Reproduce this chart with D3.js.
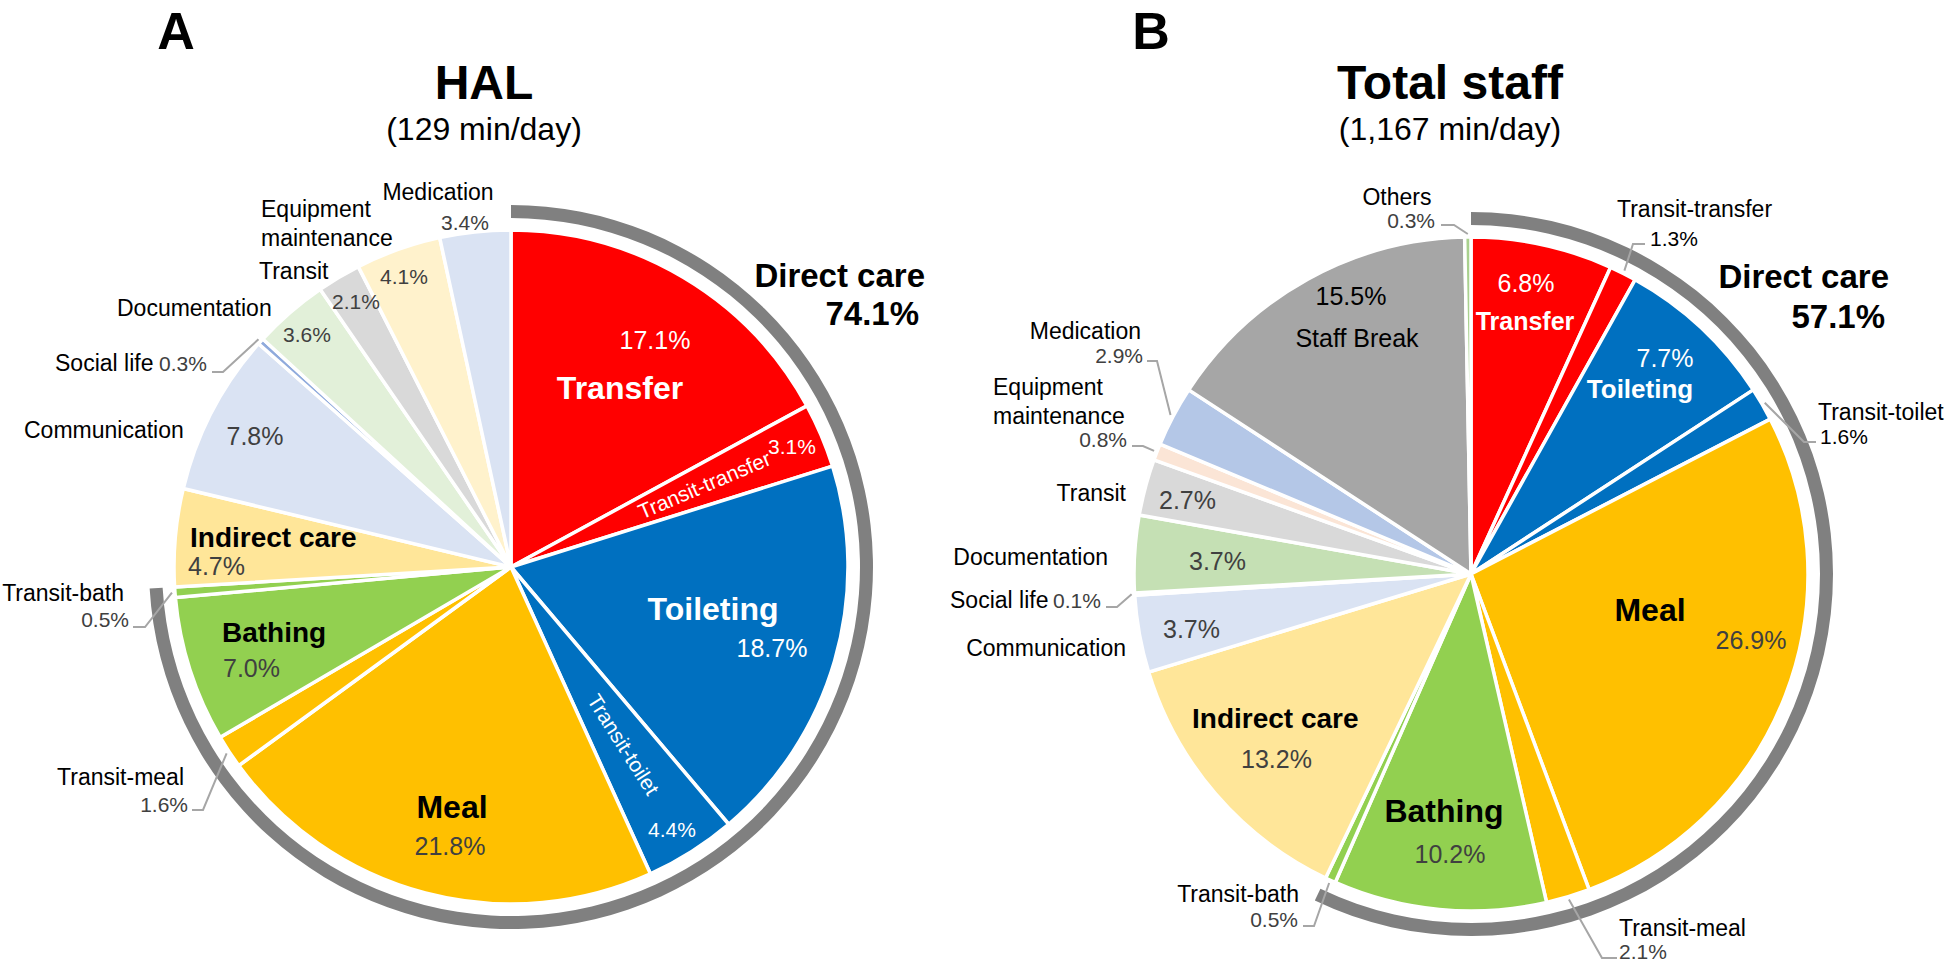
<!DOCTYPE html>
<html lang="en">
<head>
<meta charset="UTF-8">
<title>Care time breakdown</title>
<script src="https://d3js.org/d3.v7.min.js"></script>
<style>
    body { margin: 0; background: #fff; }
    svg { display: block; font-family: "Liberation Sans", Arial, sans-serif; }
    .o23 { font-size: 23px; fill: #000; }
    .k21 { font-size: 21px; fill: #000; }
    .k25 { font-size: 25px; fill: #000; }
    .g21 { font-size: 21px; fill: #404040; }
    .g25 { font-size: 25px; fill: #404040; }
    .w21 { font-size: 21px; fill: #fff; }
    .w25 { font-size: 25px; fill: #fff; }
    .b28 { font-size: 28px; font-weight: bold; fill: #000; }
    .b32 { font-size: 32px; font-weight: bold; fill: #000; }
    .bw25 { font-size: 25px; font-weight: bold; fill: #fff; }
    .bw26 { font-size: 26px; font-weight: bold; fill: #fff; }
    .bw32 { font-size: 32px; font-weight: bold; fill: #fff; }
    .grp { font-size: 33px; font-weight: bold; fill: #000; }
</style>
</head>
<body>
<svg id="chart" width="1946" height="962"></svg>
<script>
    // ---- data ----
    const panelLetters = ["A", "B"];
    const chartTitles = ["HAL", "Total staff"];
    const chartSubtitles = ["(129 min/day)", "(1,167 min/day)"];
    const groupName = "Direct care";
    const directCareTotals = [74.1, 57.1];

    const halCategories = ["Transfer", "Transit-transfer", "Toileting", "Transit-toilet", "Meal", "Transit-meal",
        "Bathing", "Transit-bath", "Indirect care", "Communication", "Social life", "Documentation",
        "Transit", "Equipment maintenance", "Medication"];
    const halValues = [17.1, 3.1, 18.7, 4.4, 21.8, 1.6, 7.0, 0.5, 4.7, 7.8, 0.3, 3.6, 2.1, 4.1, 3.4];

    const staffCategories = ["Transfer", "Transit-transfer", "Toileting", "Transit-toilet", "Meal", "Transit-meal",
        "Bathing", "Transit-bath", "Indirect care", "Communication", "Social life", "Documentation",
        "Transit", "Equipment maintenance", "Medication", "Staff Break", "Others"];
    const staffValues = [6.8, 1.3, 7.7, 1.6, 26.9, 2.1, 10.2, 0.5, 13.2, 3.7, 0.1, 3.7, 2.7, 0.8, 2.9, 15.5, 0.3];

    // slices in the direct care ring (counted from the top)
    const directCount = 8;

    // ---- colours ----
    const halColors = ["#ff0000", "#ff0000", "#0070c0", "#0070c0", "#ffc000", "#ffc000", "#92d050", "#92d050",
        "#ffe699", "#dae3f3", "#8faadc", "#e2f0d9", "#d9d9d9", "#fff2cc", "#dae3f3"];
    const staffColors = ["#ff0000", "#ff0000", "#0070c0", "#0070c0", "#ffc000", "#ffc000", "#92d050", "#92d050",
        "#ffe699", "#dae3f3", "#8faadc", "#c5e0b4", "#d9d9d9", "#fbe5d6", "#b4c7e7", "#a6a6a6", "#a9d18e"];

    // ---- layout ----
    const R = 337, ringIn = 349, ringOut = 362;
    const panels = [
        { cx: 511, cy: 567, letterX: 176, titleX: 484 },
        { cx: 1471, cy: 574, letterX: 1151, titleX: 1450 }
    ];

    // [category, part, dx, dy, anchor, class] offsets from the pie centre
    const halLabels = [
        ["Transfer", "name", 109, -168, "middle", "bw32"],
        ["Transfer", "value", 144, -218, "middle", "w25"],
        ["Transit-transfer", "value", 281, -113, "middle", "w21"],
        ["Toileting", "name", 202, 53, "middle", "bw32"],
        ["Toileting", "value", 261, 90, "middle", "w25"],
        ["Transit-toilet", "value", 161, 270, "middle", "w21"],
        ["Meal", "name", -59, 251, "middle", "b32"],
        ["Meal", "value", -61, 288, "middle", "g25"],
        ["Transit-meal", "name", -327, 218, "end", "o23"],
        ["Transit-meal", "value", -323, 245, "end", "g21"],
        ["Bathing", "name", -289, 75, "start", "b28"],
        ["Bathing", "value", -288, 110, "start", "g25"],
        ["Transit-bath", "name", -387, 34, "end", "o23"],
        ["Transit-bath", "value", -382, 60, "end", "g21"],
        ["Indirect care", "name", -321, -20, "start", "b28"],
        ["Indirect care", "value", -323, 8, "start", "g25"],
        ["Communication", "name", -487, -129, "start", "o23"],
        ["Communication", "value", -256, -122, "middle", "g25"],
        ["Social life", "name", -456, -196, "start", "o23"],
        ["Social life", "value", -352, -196, "start", "g21"],
        ["Documentation", "name", -394, -251, "start", "o23"],
        ["Documentation", "value", -204, -225, "middle", "g21"],
        ["Transit", "name", -252, -288, "start", "o23"],
        ["Transit", "value", -155, -258, "middle", "g21"],
        ["Equipment maintenance", "name", -250, -350, "start", "o23"],
        ["Equipment maintenance", "value", -107, -283, "middle", "g21"],
        ["Medication", "name", -73, -367, "middle", "o23"],
        ["Medication", "value", -46, -337, "middle", "g21"]
    ];
    const staffLabels = [
        ["Transfer", "name", 54, -244, "middle", "bw25"],
        ["Transfer", "value", 55, -282, "middle", "w25"],
        ["Transit-transfer", "name", 146, -357, "start", "o23"],
        ["Transit-transfer", "value", 179, -328, "start", "k21"],
        ["Toileting", "name", 169, -176, "middle", "bw26"],
        ["Toileting", "value", 194, -207, "middle", "w25"],
        ["Transit-toilet", "name", 347, -154, "start", "o23"],
        ["Transit-toilet", "value", 349, -130, "start", "k21"],
        ["Meal", "name", 179, 47, "middle", "b32"],
        ["Meal", "value", 280, 75, "middle", "g25"],
        ["Transit-meal", "name", 148, 362, "start", "o23"],
        ["Transit-meal", "value", 148, 385, "start", "g21"],
        ["Bathing", "name", -27, 248, "middle", "b32"],
        ["Bathing", "value", -21, 289, "middle", "g25"],
        ["Transit-bath", "name", -172, 328, "end", "o23"],
        ["Transit-bath", "value", -173, 353, "end", "g21"],
        ["Indirect care", "name", -279, 154, "start", "b28"],
        ["Indirect care", "value", -230, 194, "start", "g25"],
        ["Communication", "name", -345, 82, "end", "o23"],
        ["Communication", "value", -308, 64, "start", "g25"],
        ["Social life", "name", -521, 34, "start", "o23"],
        ["Social life", "value", -418, 34, "start", "g21"],
        ["Documentation", "name", -363, -9, "end", "o23"],
        ["Documentation", "value", -282, -4, "start", "g25"],
        ["Transit", "name", -345, -73, "end", "o23"],
        ["Transit", "value", -312, -65, "start", "g25"],
        ["Equipment maintenance", "name", -478, -179, "start", "o23"],
        ["Equipment maintenance", "value", -344, -127, "end", "g21"],
        ["Medication", "name", -330, -235, "end", "o23"],
        ["Medication", "value", -328, -211, "end", "g21"],
        ["Staff Break", "name", -114, -227, "middle", "k25"],
        ["Staff Break", "value", -120, -269, "middle", "k25"],
        ["Others", "name", -74, -369, "middle", "o23"],
        ["Others", "value", -36, -346, "end", "g21"]
    ];

    // leader lines: label side points, the last point is the slice edge
    const halLeaders = [
        ["Social life", [[-299, -195], [-288, -195]]],
        ["Transit-bath", [[-378, 60], [-366, 60]]],
        ["Transit-meal", [[-319, 243], [-308, 243]]]
    ];
    const staffLeaders = [
        ["Others", [[-30, -349], [-17, -349]]],
        ["Medication", [[-324, -213], [-314, -213]]],
        ["Equipment maintenance", [[-339, -128], [-328, -128]]],
        ["Social life", [[-365, 33], [-354, 33]]],
        ["Transit-bath", [[-168, 352], [-157, 352]]],
        ["Transit-meal", [[146, 384], [131, 384]]],
        ["Transit-toilet", [[345, -132], [333, -132]]],
        ["Transit-transfer", [[174, -330], [162, -330]]]
    ];

    // labels written along the slice radius
    const halRadial = [["Transit-transfer", 210], ["Transit-toilet", 210]];
    const staffRadial = [];

    const groupLabelPos = [[414, -280, 408, -242], [418, -286, 414, -246]];

    const charts = [
        { cats: halCategories, vals: halValues, colors: halColors, labels: halLabels, leaders: halLeaders, radial: halRadial },
        { cats: staffCategories, vals: staffValues, colors: staffColors, labels: staffLabels, leaders: staffLeaders, radial: staffRadial }
    ];

    const svg = d3.select("#chart");
    const fmt = v => v.toFixed(1) + "%";
    const pie = d3.pie().sort(null).value(d => d).startAngle(0).endAngle(2 * Math.PI);
    const arc = d3.arc().innerRadius(0).outerRadius(R);
    const ringArc = d3.arc().innerRadius(ringIn).outerRadius(ringOut);
    const edgeArc = d3.arc().innerRadius(R + 3).outerRadius(R + 3);

    charts.forEach((c, i) => {
        const p = panels[i];
        const arcs = pie(c.vals);
        const byName = {};
        arcs.forEach((a, k) => byName[c.cats[k]] = a);

        // panel letter and titles
        svg.append("text").attr("x", p.letterX).attr("y", 49).attr("text-anchor", "middle")
            .style("font-size", "52px").style("font-weight", "bold").text(panelLetters[i]);
        svg.append("text").attr("x", p.titleX).attr("y", 99).attr("text-anchor", "middle")
            .style("font-size", "48px").style("font-weight", "bold").text(chartTitles[i]);
        svg.append("text").attr("x", p.titleX).attr("y", 140).attr("text-anchor", "middle")
            .style("font-size", "32px").text(chartSubtitles[i]);

        const g = svg.append("g").attr("transform", `translate(${p.cx},${p.cy})`);

        g.selectAll("path.slice")
            .data(arcs)
            .join("path")
            .attr("class", "slice")
            .attr("d", arc)
            .attr("fill", (d, k) => c.colors[k])
            .attr("stroke", "#fff")
            .attr("stroke-width", 3.5)
            .attr("stroke-linejoin", "round");

        // direct care ring
        g.append("path")
            .attr("d", ringArc({ startAngle: 0, endAngle: arcs[directCount - 1].endAngle }))
            .attr("fill", "#808080");

        // leader lines
        c.leaders.forEach(([name, pts]) => {
            const end = edgeArc.centroid(byName[name]);
            g.append("path")
                .attr("d", d3.line()(pts.concat([end])))
                .attr("fill", "none")
                .attr("stroke", "#a6a6a6")
                .attr("stroke-width", 2);
        });

        // slice labels
        c.labels.forEach(([name, part, dx, dy, anchor, cls]) => {
            const k = c.cats.indexOf(name);
            const t = g.append("text")
                .attr("x", dx).attr("y", dy)
                .attr("text-anchor", anchor)
                .attr("class", cls);
            if (part === "value") {
                t.text(fmt(c.vals[k]));
            } else if (name === "Equipment maintenance") {
                name.split(" ").forEach((w, j) => {
                    t.append("tspan").attr("x", dx).attr("dy", j === 0 ? 0 : 29).text(w);
                });
            } else {
                t.text(name);
            }
        });

        // radial labels inside thin slices
        c.radial.forEach(([name, r]) => {
            const a = byName[name];
            const mid = (a.startAngle + a.endAngle) / 2;
            const x = Math.sin(mid) * r, y = -Math.cos(mid) * r;
            g.append("text")
                .attr("transform", `translate(${x},${y}) rotate(${mid * 180 / Math.PI - 90})`)
                .attr("text-anchor", "middle")
                .attr("dy", "0.35em")
                .attr("class", "w21")
                .text(name);
        });

        // group label
        const gp = groupLabelPos[i];
        g.append("text").attr("x", gp[0]).attr("y", gp[1]).attr("text-anchor", "end")
            .attr("class", "grp").text(groupName);
        g.append("text").attr("x", gp[2]).attr("y", gp[3]).attr("text-anchor", "end")
            .attr("class", "grp").text(fmt(directCareTotals[i]));
    });
</script>
</body>
</html>
